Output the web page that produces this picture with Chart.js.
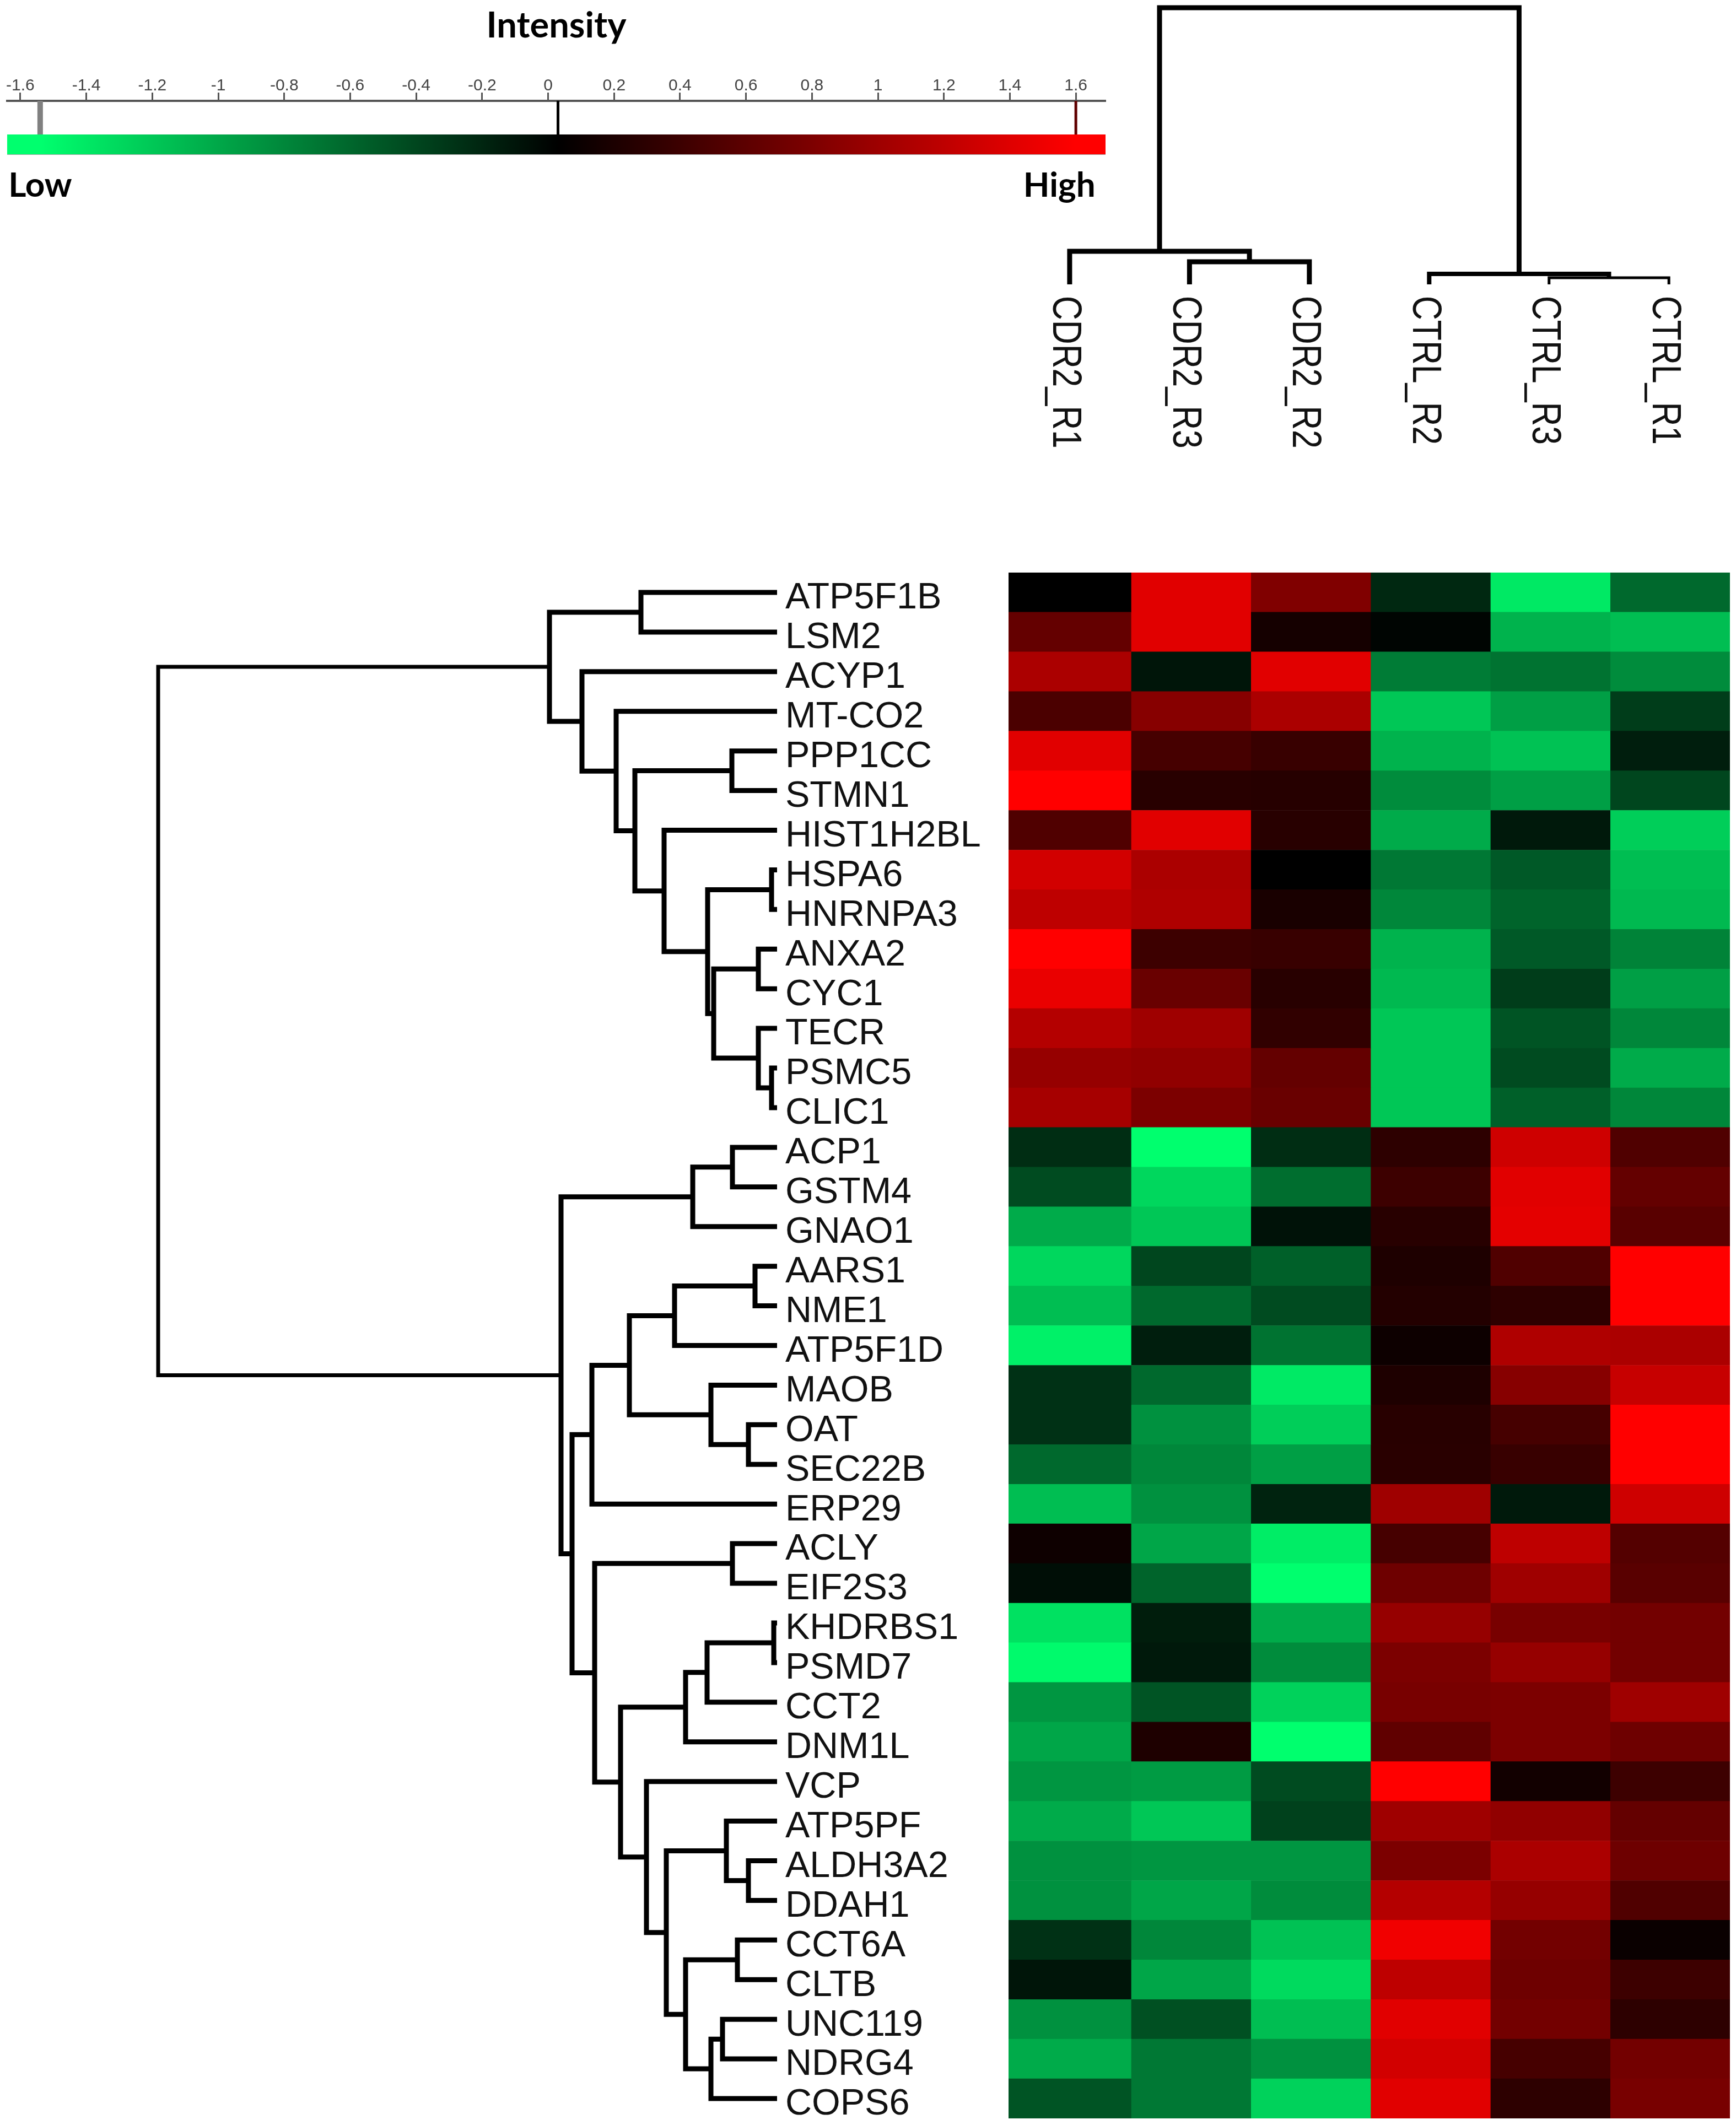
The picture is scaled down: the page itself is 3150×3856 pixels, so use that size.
<!DOCTYPE html>
<html>
<head>
<meta charset="utf-8">
<title>Intensity heatmap</title>
<script src="https://cdn.jsdelivr.net/npm/chart.js@4/dist/chart.umd.js"></script>
<style>
html, body { margin: 0; padding: 0; background: #fff; }
body { position: relative; width: 3150px; height: 3856px; overflow: hidden; }
canvas { position: absolute; display: block; }
#keyChart { left: 0; top: 0; }
#sampleTree { left: 1830px; top: 0; }
#geneTree { left: 0; top: 1039px; }
#heatmap { left: 1830px; top: 1039px; }
</style>
</head>
<body>
<canvas id="keyChart" width="2008" height="400"></canvas>
<canvas id="sampleTree" width="1320" height="900"></canvas>
<canvas id="geneTree" width="1830" height="2805"></canvas>
<canvas id="heatmap" width="1309" height="2805"></canvas>
<script>
const genes = ["ATP5F1B", "LSM2", "ACYP1", "MT-CO2", "PPP1CC", "STMN1", "HIST1H2BL", "HSPA6", "HNRNPA3", "ANXA2",
    "CYC1", "TECR", "PSMC5", "CLIC1", "ACP1", "GSTM4", "GNAO1", "AARS1", "NME1", "ATP5F1D",
    "MAOB", "OAT", "SEC22B", "ERP29", "ACLY", "EIF2S3", "KHDRBS1", "PSMD7", "CCT2", "DNM1L",
    "VCP", "ATP5PF", "ALDH3A2", "DDAH1", "CCT6A", "CLTB", "UNC119", "NDRG4", "COPS6"];
const samples = ["CDR2_R1", "CDR2_R3", "CDR2_R2", "CTRL_R2", "CTRL_R3", "CTRL_R1"];

// intensities per sample, same order as genes
const cdr2R1 = [0, 0.63, 1.07, 0.47, 1.41, 1.6, 0.5, 1.32, 1.19, 1.6, 1.47, 1.13, 0.94, 1.04,
    -0.28, -0.47, -1.07, -1.35, -1.19, -1.51, -0.31, -0.31, -0.66, -1.19, 0.09, -0.09,
    -1.41, -1.57, -0.94, -1.04, -0.94, -1.07, -0.91, -0.91, -0.31, -0.13, -0.91, -1.07, -0.53];
const cdr2R3 = [1.41, 1.41, -0.13, 0.85, 0.44, 0.25, 1.41, 1.07, 1.1, 0.38, 0.66, 1.0, 0.91, 0.78,
    -1.6, -1.35, -1.25, -0.44, -0.66, -0.19, -0.66, -0.91, -0.85, -0.91, -1.04, -0.63,
    -0.18, -0.16, -0.53, 0.19, -0.97, -1.25, -0.94, -1.04, -0.85, -1.04, -0.5, -0.75, -0.75];
const cdr2R2 = [0.8, 0.13, 1.41, 1.07, 0.35, 0.24, 0.25, 0, 0.16, 0.35, 0.25, 0.31, 0.63, 0.66,
    -0.28, -0.69, -0.11, -0.6, -0.47, -0.72, -1.47, -1.29, -1.0, -0.22, -1.49, -1.6,
    -1.07, -0.88, -1.32, -1.6, -0.47, -0.41, -0.94, -0.88, -1.22, -1.37, -1.19, -0.91, -1.32];
const ctrlR2 = [-0.25, -0.03, -0.78, -1.25, -1.12, -0.88, -1.07, -0.75, -0.85, -1.12, -1.16, -1.25, -1.25, -1.25,
    0.28, 0.38, 0.25, 0.19, 0.22, 0.08, 0.19, 0.25, 0.26, 1.0, 0.44, 0.69,
    0.94, 0.78, 0.75, 0.6, 1.6, 1.0, 0.78, 1.13, 1.51, 1.19, 1.41, 1.32, 1.41];
const ctrlR3 = [-1.46, -1.12, -0.72, -1.0, -1.22, -1.0, -0.16, -0.56, -0.63, -0.56, -0.38, -0.53, -0.47, -0.6,
    1.29, 1.41, 1.43, 0.5, 0.28, 1.1, 0.85, 0.44, 0.35, -0.16, 1.19, 1.0,
    0.75, 0.94, 0.78, 0.78, 0.11, 0.91, 1.07, 0.94, 0.72, 0.69, 0.72, 0.44, 0.28];
const ctrlR1 = [-0.66, -1.19, -0.88, -0.38, -0.19, -0.44, -1.29, -1.19, -1.16, -0.82, -1.0, -0.85, -1.07, -0.85,
    0.5, 0.63, 0.56, 1.6, 1.6, 1.07, 1.25, 1.6, 1.6, 1.29, 0.53, 0.56,
    0.72, 0.72, 1.0, 0.69, 0.38, 0.63, 0.69, 0.5, 0.06, 0.38, 0.28, 0.72, 0.75];
const sampleValues = [cdr2R1, cdr2R3, cdr2R2, ctrlR2, ctrlR3, ctrlR1];

// merges as in hclust: negative = leaf number, positive = earlier merge, then the distance
const geneMerges = [
    [-1, -2, 247], [-5, -6, 82], [-8, -9, 10], [-10, -11, 34], [-13, -14, 10],
    [-12, 5, 34], [4, 6, 115], [3, 7, 126], [-7, 8, 205], [2, 9, 258],
    [-4, 10, 292], [-3, 11, 354], [1, 12, 413], [-15, -16, 81], [14, -17, 153],
    [-18, -19, 40], [16, -20, 186], [-22, -23, 52], [-21, 18, 120], [17, 19, 268],
    [20, -24, 336], [-25, -26, 81], [-27, -28, 6], [23, -29, 127], [24, -30, 166],
    [-33, -34, 52], [-32, 26, 92], [-35, -36, 72], [-37, -38, 99], [29, -39, 120],
    [28, 30, 166], [27, 31, 201], [-31, 32, 237], [25, 33, 284], [22, 34, 331],
    [21, 35, 372], [15, 36, 392], [13, 37, 1123]
];
const sampleMerges = [[-2, -3, 41], [-1, 1, 60], [-5, -6, 12], [-4, 3, 19], [2, 4, 502]];
const sampleLineWidths = [9, 9, 5, 8, 9];

const keyTicks = [-1.6, -1.4, -1.2, -1, -0.8, -0.6, -0.4, -0.2, 0, 0.2, 0.4, 0.6, 0.8, 1, 1.2, 1.4, 1.6];
const keyMarkers = [-1.54, 0.03, 1.6];
const keyMarkerColors = ["#808080", "#000000", "#600000"];
const keyLabels = { "-1.54": "Low", "1.55": "High" };

Chart.defaults.animation = false;
Chart.defaults.responsive = false;
Chart.defaults.devicePixelRatio = 1;
Chart.defaults.plugins.legend.display = false;
Chart.defaults.plugins.tooltip.enabled = false;

function cellColor(value) {
    const level = Math.min(Math.abs(value) / 1.6, 1);
    if (value >= 0) {
        return `rgb(${Math.round(255 * level)}, 0, 0)`;
    }
    return `rgb(0, ${Math.round(255 * level)}, ${Math.round(110 * level)})`;
}

function treeLines(merges) {
    const nodes = [];
    const nodeAt = (ref) => (ref < 0 ? { pos: -ref - 1, height: 0 } : nodes[ref - 1]);
    return merges.map(([a, b, height]) => {
        const left = nodeAt(a);
        const right = nodeAt(b);
        nodes.push({ pos: (left.pos + right.pos) / 2, height });
        return [[left.pos, left.height], [left.pos, height], [right.pos, height], [right.pos, right.height]];
    });
}

function lineDataset(data, color, width) {
    return {
        data,
        borderColor: color,
        borderWidth: width,
        pointRadius: 0,
        showLine: true,
        tension: 0,
        clip: false,
        borderCapStyle: "butt",
        borderJoinStyle: "miter",
    };
}

// keep tick labels from pushing the plot area in
function fixAxisBox(scale, size) {
    if (scale.isHorizontal()) {
        scale.height = size;
        scale.paddingLeft = 0;
        scale.paddingRight = 0;
    } else {
        scale.width = size;
        scale.paddingTop = 0;
        scale.paddingBottom = 0;
    }
}

// colour key: the ramp needs the x scale, so it is set once the layout is known
const keyRampPlugin = {
    id: "keyRamp",
    afterLayout(chart) {
        const x = chart.scales.x;
        const gradient = chart.ctx.createLinearGradient(
            x.getPixelForValue(keyMarkers[0]), 0, x.getPixelForValue(keyMarkers[2]), 0);
        gradient.addColorStop(0, cellColor(-1.6));
        gradient.addColorStop(0.5, "#000");
        gradient.addColorStop(1, cellColor(1.6));
        chart.data.datasets[0].borderColor = gradient;
    },
};

new Chart(document.getElementById("keyChart"), {
    type: "scatter",
    data: {
        datasets: [
            lineDataset([{ x: -1.64, y: 18 }, { x: 1.69, y: 18 }], "#000", 36),
            lineDataset([{ x: -1.64, y: 28 }, { x: 1.69, y: 28 }], "rgba(128, 128, 128, 0.4)", 9),
            lineDataset([{ x: -1.64, y: 34 }, { x: 1.69, y: 34 }], "#808080", 4),
            lineDataset([{ x: -1.64, y: 0 }, { x: 1.69, y: 0 }], "rgba(128, 128, 128, 0.7)", 2),
            ...keyMarkers.map((value, i) => lineDataset(
                [{ x: value, y: 36 }, { x: value, y: 97 }], keyMarkerColors[i], i === 0 ? 10 : 5)),
        ],
    },
    options: {
        layout: { padding: { left: 13, right: 2 } },
        plugins: {
            title: {
                display: true,
                text: "Intensity",
                color: "#000",
                font: { family: "Lato", size: 65, weight: "bold" },
                padding: { top: 8, bottom: 0 },
            },
        },
        scales: {
            x: {
                type: "linear",
                position: "top",
                min: -1.64,
                max: 1.69,
                afterBuildTicks: (scale) => { scale.ticks = keyTicks.map((value) => ({ value })); },
                afterFit: (scale) => fixAxisBox(scale, 97),
                border: { display: true, color: "#555", width: 4 },
                grid: { display: true, drawOnChartArea: false, tickLength: 15, tickWidth: 3, tickColor: "#555" },
                ticks: {
                    color: "#444",
                    font: { family: "Liberation Sans", size: 30 },
                    padding: -6,
                    autoSkip: false,
                    maxRotation: 0,
                    minRotation: 0,
                    callback: (value) => String(value),
                },
            },
            xEnds: {
                type: "linear",
                position: "bottom",
                min: -1.64,
                max: 1.69,
                afterBuildTicks: (scale) => {
                    scale.ticks = Object.keys(keyLabels).map((value) => ({ value: Number(value) }));
                },
                afterFit: (scale) => fixAxisBox(scale, 120),
                border: { display: false },
                grid: { display: false },
                ticks: {
                    color: "#000",
                    font: { family: "Lato", size: 62, weight: "bold" },
                    padding: 12,
                    autoSkip: false,
                    maxRotation: 0,
                    minRotation: 0,
                    callback: (value) => keyLabels[String(value)],
                },
            },
            y: { display: false, min: 0, max: 97 },
        },
    },
    plugins: [keyRampPlugin],
});

// sample dendrogram, labels turned to read downwards
const sampleLabelPlugin = {
    id: "sampleLabels",
    afterDatasetsDraw(chart) {
        const { ctx, scales } = chart;
        samples.forEach((name, i) => {
            ctx.save();
            ctx.translate(scales.x.getPixelForValue(i) - 9, scales.y.getPixelForValue(-21));
            ctx.rotate(Math.PI / 2);
            ctx.scale(0.81, 1);
            ctx.font = '75px "Liberation Sans"';
            ctx.fillStyle = "#111";
            ctx.textAlign = "left";
            ctx.textBaseline = "middle";
            ctx.fillText(name, 0, 0);
            ctx.restore();
        });
    },
};

new Chart(document.getElementById("sampleTree"), {
    type: "scatter",
    data: {
        datasets: treeLines(sampleMerges).map((line, i) => lineDataset(
            line.map(([pos, height]) => ({ x: pos, y: height })), "#000", sampleLineWidths[i])),
    },
    options: {
        layout: { padding: { bottom: 384 } },
        scales: {
            x: { display: false, min: -0.51, max: 5.56 },
            y: { display: false, min: 0, max: 516 },
        },
    },
    plugins: [sampleLabelPlugin],
});

// gene dendrogram with the gene names on its right-hand axis
new Chart(document.getElementById("geneTree"), {
    type: "scatter",
    data: {
        datasets: treeLines(geneMerges).map((line, i) => lineDataset(
            line.map(([pos, height]) => ({ x: height, y: pos })), "#000", i === geneMerges.length - 1 ? 7 : 9)),
    },
    options: {
        scales: {
            x: { display: false, reverse: true, min: 0, max: 1410 },
            y: { display: false, reverse: true, min: -0.5, max: 38.5 },
            yGenes: {
                type: "linear",
                position: "right",
                reverse: true,
                min: -0.653,
                max: 38.347,
                afterBuildTicks: (scale) => { scale.ticks = genes.map((_, value) => ({ value })); },
                afterFit: (scale) => fixAxisBox(scale, 420),
                border: { display: false },
                grid: { display: false },
                ticks: {
                    color: "#111",
                    font: { family: "Liberation Sans", size: 66.5 },
                    padding: 7,
                    autoSkip: false,
                    callback: (value) => genes[value],
                },
            },
        },
    },
});

// heatmap cells, one floating bar per gene and sample
const FIRST_COLUMN_EXTRA = 0.023;
new Chart(document.getElementById("heatmap"), {
    type: "bar",
    data: {
        labels: genes,
        datasets: sampleValues.map((values, col) => ({
            label: samples[col],
            data: values.map(() => [col === 0 ? -FIRST_COLUMN_EXTRA : col, col + 1]),
            backgroundColor: values.map(cellColor),
            grouped: false,
            barPercentage: 1,
            categoryPercentage: 1,
            borderWidth: 0,
        })),
    },
    options: {
        indexAxis: "y",
        scales: {
            x: { type: "linear", display: false, min: -FIRST_COLUMN_EXTRA, max: 6 },
            y: { type: "category", display: false },
        },
    },
});
</script>
</body>
</html>
